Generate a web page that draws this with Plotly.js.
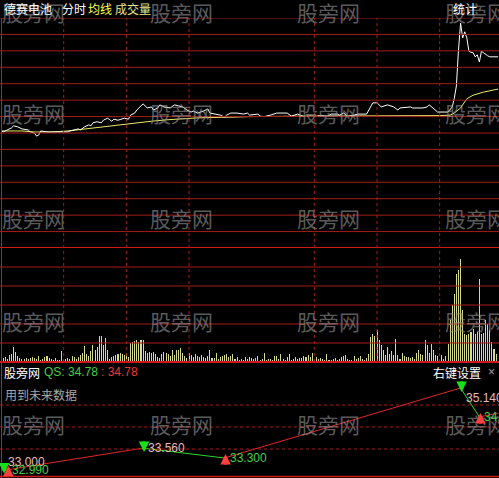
<!DOCTYPE html>
<html>
<head>
<meta charset="utf-8">
<script src="https://cdn.plot.ly/plotly-3.0.1.min.js"></script>
<style>
  html, body { margin: 0; padding: 0; background: #000; overflow: hidden; }
  #chart { width: 499px; height: 478px; }
</style>
</head>
<body>
<div id="chart"></div>
<script>
// ---- 分时数据 (minute index from 9:30) ----
const stockName = '德赛电池';
const preClose = 32.99;

const priceMinutes = [0, 1, 3, 5, 6, 8, 10, 13, 14, 16, 17, 18, 19, 22, 25, 29, 32, 33, 37, 38,
  40, 42, 43, 44, 46, 48, 49, 51, 53, 54, 56, 59, 61, 62, 64, 65, 67, 68, 70, 72,
  73, 75, 76, 78, 81, 83, 85, 87, 89, 91, 92, 94, 97, 99, 100, 102, 105, 107, 108, 110,
  113, 116, 118, 119, 123, 124, 126, 129, 132, 137, 139, 142, 145, 148, 151, 153, 156, 158, 161, 162,
  164, 166, 171, 175, 177, 178, 180, 182, 185, 188, 190, 191, 196, 197, 202, 204, 205, 207, 209, 214,
  215, 216, 217, 218, 219, 220, 221, 222, 223, 224, 225, 226, 227, 228, 229, 230, 231, 232, 233, 234,
  235, 236, 237, 238];
const priceValues = [33.03, 33.01, 33.05, 33.09, 33.13, 33.11, 33.07, 33.05, 33.01, 32.99, 32.93, 32.95, 33.03, 33.01, 33.01, 33.01, 33.01, 33.03, 33.07, 33.05,
  33.11, 33.15, 33.13, 33.19, 33.21, 33.19, 33.24, 33.28, 33.22, 33.26, 33.24, 33.28, 33.26, 33.34, 33.38, 33.44, 33.52, 33.56, 33.48, 33.50,
  33.44, 33.48, 33.54, 33.50, 33.48, 33.54, 33.52, 33.50, 33.44, 33.40, 33.42, 33.38, 33.42, 33.46, 33.38, 33.36, 33.34, 33.30, 33.34, 33.38,
  33.38, 33.36, 33.38, 33.34, 33.36, 33.32, 33.31, 33.34, 33.38, 33.38, 33.32, 33.36, 33.31, 33.32, 33.31, 33.34, 33.31, 33.36, 33.36, 33.34,
  33.38, 33.31, 33.36, 33.36, 33.50, 33.58, 33.58, 33.50, 33.54, 33.50, 33.44, 33.48, 33.50, 33.48, 33.48, 33.50, 33.54, 33.46, 33.40, 33.40,
  33.44, 33.50, 33.67, 33.91, 34.61, 35.14, 34.85, 34.97, 34.85, 34.59, 34.57, 34.56, 34.48, 34.52, 34.38, 34.59, 34.56, 34.52, 34.50, 34.48,
  34.48, 34.48, 34.48, 34.48];

const avgMinutes = [0, 10, 16, 24, 32, 40, 48, 56, 64, 72, 80, 88, 96, 111, 119, 143, 167, 191, 210, 215,
  217, 220, 223, 226, 231, 238];
const avgValues = [33.03, 33.03, 33.01, 33.01, 33.03, 33.07, 33.11, 33.15, 33.19, 33.22, 33.25, 33.27, 33.29, 33.30, 33.31, 33.32, 33.32, 33.32, 33.33, 33.34,
  33.38, 33.48, 33.66, 33.73, 33.79, 33.85];

// 成交量 (百手), one bar per minute
const volumeValues = [9, 4, 5, 3, 7, 8, 15, 10, 6, 4, 3, 3, 4, 3, 4, 5, 4, 3, 6, 2,
  3, 5, 6, 4, 3, 2, 4, 2, 2, 11, 2, 3, 4, 3, 6, 5, 3, 5, 7, 9,
  16, 8, 6, 11, 17, 12, 15, 26, 26, 17, 24, 12, 3, 5, 6, 7, 8, 9, 8, 7,
  9, 5, 19, 20, 21, 22, 20, 22, 22, 11, 9, 10, 9, 10, 8, 5, 4, 8, 10, 9,
  8, 6, 12, 7, 12, 12, 14, 9, 6, 4, 9, 7, 5, 8, 6, 5, 7, 5, 4, 6,
  12, 4, 4, 9, 3, 5, 6, 7, 8, 5, 6, 8, 3, 5, 2, 3, 2, 5, 3, 5,
  4, 3, 4, 6, 2, 3, 9, 2, 3, 3, 2, 6, 6, 3, 8, 3, 2, 5, 8, 2,
  3, 5, 3, 4, 4, 6, 5, 7, 5, 9, 2, 5, 3, 4, 3, 2, 8, 2, 2, 3,
  4, 2, 3, 5, 6, 7, 3, 2, 2, 6, 3, 4, 6, 3, 2, 4, 8, 25, 28, 26,
  32, 22, 17, 12, 7, 15, 8, 11, 7, 23, 7, 3, 9, 6, 5, 5, 4, 5, 3, 9,
  12, 8, 7, 22, 17, 9, 18, 12, 7, 6, 2, 7, 3, 6, 18, 42, 57, 68, 88, 92,
  103, 52, 28, 27, 28, 30, 33, 28, 30, 83, 28, 29, 42, 38, 32, 20, 13, 8];

// QS 指标 (zigzag 转折点)
const qsMinutes = [1, 3, 68, 107, 220, 229, 238];
const qsValues = [33.00, 32.99, 33.56, 33.30, 35.14, 34.38, 34.48];
const qsLabels = ['33.000', '32.990', '33.560', '33.300', '35.140', '34.380', ''];
const qsLast = 34.78;

// ---- helpers: pixel -> paper ----
const W = 499, H = 478;
const px = x => x / W;
const py = y => 1 - y / H;

// panel geometry (pixel rows)
const priceTop = 18, priceBottom = 248, volBottom = 362, indBottom = 478;
const priceHalf = 2.25;
const volMax = 114;
// indicator scale: 38.04 px per unit, 33.30 drawn on row 458
const indPxPerUnit = 38.04;
const indLo = 33.30 - (indBottom - 458) / indPxPerUnit;
const indHi = 33.30 + (458 - volBottom) / indPxPerUnit;

const RED = '#a51c1c';
const RED_BRIGHT = '#d01818';

const traces = [];

traces.push({
  type: 'bar', x: volumeValues.map((v, i) => i), y: volumeValues,
  xaxis: 'x', yaxis: 'y2', width: 0.5,
  marker: { color: '#d8d88e', line: { width: 0 } }, hoverinfo: 'skip'
});
traces.push({
  type: 'scatter', mode: 'lines', x: avgMinutes, y: avgValues,
  xaxis: 'x', yaxis: 'y', line: { color: '#f0e868', width: 1 }, hoverinfo: 'skip'
});
traces.push({
  type: 'scatter', mode: 'lines', x: priceMinutes, y: priceValues,
  xaxis: 'x', yaxis: 'y', line: { color: '#ffffff', width: 1 }, hoverinfo: 'skip'
});

// zigzag: rising legs red, falling legs green
for (let i = 0; i + 1 < qsMinutes.length; i++) {
  const up = qsValues[i + 1] > qsValues[i];
  traces.push({
    type: 'scatter', mode: 'lines',
    x: [qsMinutes[i], qsMinutes[i + 1]], y: [qsValues[i], qsValues[i + 1]],
    xaxis: 'x', yaxis: 'y3',
    line: { color: up ? '#e02828' : '#28d828', width: 1 }, hoverinfo: 'skip'
  });
}

const shapes = [];
// price grid
for (let j = -7; j <= 7; j++) {
  const edge = (j === -7);
  shapes.push({ type: 'line', xref: 'paper', yref: 'y', x0: 0, x1: 1,
    y0: preClose + j * priceHalf / 7, y1: preClose + j * priceHalf / 7,
    line: { color: edge ? RED_BRIGHT : RED, width: edge ? 2 : 1 } });
}
// volume grid
for (let j = 1; j <= 5; j++) {
  shapes.push({ type: 'line', xref: 'paper', yref: 'y2', x0: 0, x1: 1,
    y0: j * volMax / 6, y1: j * volMax / 6, line: { color: RED, width: 1 } });
}
// panel separator and bottom border
shapes.push({ type: 'line', xref: 'paper', yref: 'paper', x0: 0, x1: 1, y0: py(volBottom), y1: py(volBottom),
  line: { color: RED_BRIGHT, width: 2 } });
shapes.push({ type: 'line', xref: 'paper', yref: 'paper', x0: 0, x1: 1, y0: py(476.5), y1: py(476.5),
  line: { color: RED_BRIGHT, width: 1.5 } });
// indicator dotted levels
[405, 427, 449].forEach(r => shapes.push({ type: 'line', xref: 'paper', yref: 'paper', x0: 0, x1: 1,
  y0: py(r), y1: py(r), line: { color: RED, width: 1, dash: 'dot' } }));
// half-hour dotted verticals
[30, 60, 90, 150, 180, 210].forEach(m => shapes.push({ type: 'line', xref: 'x', yref: 'paper',
  x0: m, x1: m, y0: py(volBottom), y1: py(priceTop), line: { color: RED, width: 1, dash: 'dot' } }));
// left border
shapes.push({ type: 'line', xref: 'paper', yref: 'paper', x0: px(1.5), x1: px(1.5), y0: 0, y1: py(priceTop),
  line: { color: RED_BRIGHT, width: 1 } });

const annotations = [];
const CJK = '"Noto Sans CJK SC", "Noto Sans", sans-serif';
const LAT = '"Liberation Sans", Arial, sans-serif';

// watermark grid
[0, 148, 295, 443].forEach(wx => [12, 113, 218, 321, 424].forEach(wy => {
  annotations.push({ xref: 'paper', yref: 'paper', x: px(wx), y: py(wy), xanchor: 'left', yanchor: 'middle',
    text: '股旁网', showarrow: false, font: { family: CJK, size: 21, color: 'rgba(150,150,150,0.62)' } });
}));

function label(text, x, y, color, family, size, anchor) {
  annotations.push({ xref: 'paper', yref: 'paper', x: px(x), y: py(y), xanchor: anchor || 'left', yanchor: 'middle',
    text: text, showarrow: false, font: { family: family || CJK, size: size || 12, color: color } });
}
label(stockName, 2, 8, '#ffffff');
label('分时', 60, 8, '#ffffff');
label('均线', 86, 8, '#ffff50');
label('成交量', 113, 8, '#e6e68c');
label('统计', 451, 8, '#ffffff');

label('股旁网', 2, 372, '#ffffff');
label('QS: ' + qsLast.toFixed(2), 42, 372, '#40d040', LAT);
label(': ' + qsLast.toFixed(2), 99, 372, '#e83838', LAT);
label('用到未来数据', 3, 394, '#a8a8a8');
label('右键设置', 431, 372, '#ffffff');
label('×', 486, 372, '#a0a0a0', LAT);

// zigzag turning-point labels, then arrows (troughs first so peaks sit on top)
const isPeak = i => (i + 1 < qsValues.length) ? qsValues[i + 1] < qsValues[i] : false;
const labelShift = { 0: 7, 4: -10 };
for (let i = 0; i + 1 < qsMinutes.length; i++) {
  const peak = isPeak(i);
  annotations.push({ xref: 'x', yref: 'y3', x: qsMinutes[i], y: qsValues[i], xanchor: 'left', yanchor: 'middle',
    xshift: 3, yshift: labelShift[i] || 0, text: qsLabels[i], showarrow: false,
    font: { family: LAT, size: 12, color: peak ? '#ecb8b8' : '#40d040' } });
}
const arrowOrder = [];
for (let i = 0; i + 1 < qsMinutes.length; i++) if (!isPeak(i)) arrowOrder.push(i);
for (let i = 0; i + 1 < qsMinutes.length; i++) if (isPeak(i)) arrowOrder.push(i);
arrowOrder.forEach(i => {
  const peak = isPeak(i);
  annotations.push({ xref: 'x', yref: 'y3', x: qsMinutes[i], y: qsValues[i], axref: 'pixel', ayref: 'pixel',
    ax: 0, ay: peak ? -12 : 12, yshift: peak ? -4 : 4, xshift: 1, text: '', showarrow: true,
    arrowhead: 2, arrowsize: 0.6, arrowwidth: 3.5, arrowcolor: peak ? '#18e018' : '#ff4040' });
});

const layout = {
  width: W, height: H, margin: { l: 0, r: 0, t: 0, b: 0 },
  paper_bgcolor: '#000000', plot_bgcolor: '#000000', showlegend: false,
  xaxis: { range: [-0.5, 238.4], visible: false, fixedrange: true },
  yaxis: { domain: [py(priceBottom), py(priceTop)], range: [preClose - priceHalf, preClose + priceHalf], visible: false },
  yaxis2: { domain: [py(volBottom), py(priceBottom)], range: [0, volMax], visible: false, anchor: 'x' },
  yaxis3: { domain: [0, py(volBottom)], range: [indLo, indHi], visible: false, anchor: 'x' },
  shapes: shapes, annotations: annotations, bargap: 0
};

Plotly.newPlot('chart', traces, layout, { staticPlot: true, displayModeBar: false });
</script>
</body>
</html>
